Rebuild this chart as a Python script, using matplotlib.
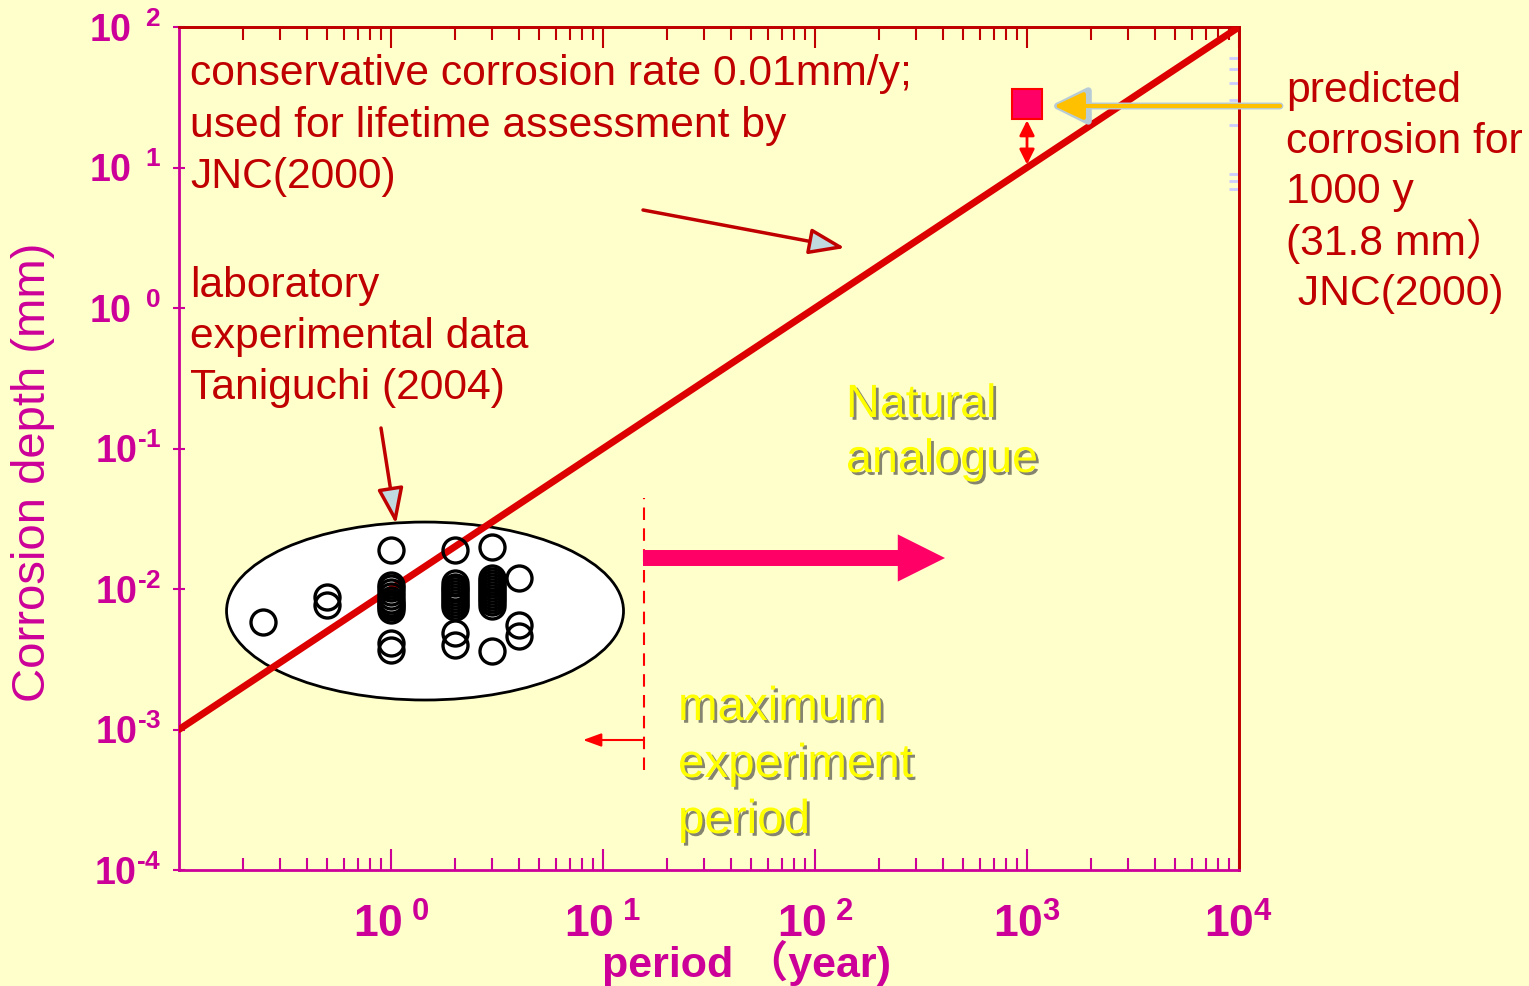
import matplotlib
matplotlib.use('Agg')
import matplotlib.pyplot as plt
from matplotlib.patches import Ellipse, FancyArrowPatch, ArrowStyle
from matplotlib.ticker import NullLocator, NullFormatter, FixedLocator, LogLocator
import matplotlib.patheffects as pe

# ---------------- data ----------------
line_period = [0.1, 1e4]          # conservative rate 0.01 mm/y
line_depth = [1e-3, 1e2]

lab_period = [0.25, 0.5, 0.5,
              1, 1, 1, 1, 1, 1, 1, 1, 1, 1, 1, 1,
              2, 2, 2, 2, 2, 2, 2, 2, 2, 2, 2, 2,
              3, 3, 3, 3, 3, 3, 3, 3, 3, 3, 3, 3,
              4, 4, 4]
lab_depth = [0.0058, 0.0088, 0.0077,
             0.0188, 0.0107, 0.0101, 0.0095, 0.0089, 0.0084, 0.0080, 0.0077, 0.0074,
             0.0071, 0.0041, 0.0037,
             0.0188, 0.0110, 0.0104, 0.0100, 0.0095, 0.0091, 0.0086, 0.0082, 0.0078,
             0.0075, 0.0049, 0.0040,
             0.0199, 0.0120, 0.0114, 0.0109, 0.0103, 0.0098, 0.0093, 0.0089, 0.0085,
             0.0081, 0.0076, 0.0036,
             0.0120, 0.0055, 0.0046]

predicted_period = [1000]
predicted_depth = [28.5]
line_depth_at_1000 = 10.5
max_experiment_period = 15.6

x_ticks = [1, 10, 100, 1000, 10000]
x_tick_labels = [r'$\mathbf{10}^{\ \mathbf{0}}$', r'$\mathbf{10}^{\ \mathbf{1}}$',
                 r'$\mathbf{10}^{\ \mathbf{2}}$', r'$\mathbf{10^3}$', r'$\mathbf{10^4}$']
y_ticks = [1e-4, 1e-3, 1e-2, 1e-1, 1e0, 1e1, 1e2]
y_tick_labels = ['$\\mathbf{10^{\u20104}}$', '$\\mathbf{10^{\u20103}}$',
                 '$\\mathbf{10^{\u20102}}$', '$\\mathbf{10^{\u20101}}$',
                 r'$\mathbf{10}^{\ \ \mathbf{0}}$', r'$\mathbf{10}^{\ \ \mathbf{1}}$',
                 r'$\mathbf{10}^{\ \ \mathbf{2}}$']
right_minor_ticks = [7, 8, 9, 20, 30, 40, 50, 60]

# ---------------- style ----------------
BG = '#FFFFCC'
MAG = '#CC0099'
DRED = '#C00000'
RED = '#DD0000'
PINK = '#FF0066'

plt.rcParams['font.family'] = ['Liberation Sans', 'Noto Sans CJK SC', 'DejaVu Sans']
plt.rcParams['mathtext.fontset'] = 'custom'
plt.rcParams['mathtext.rm'] = 'Liberation Sans'
plt.rcParams['mathtext.bf'] = 'Liberation Sans:bold'
plt.rcParams['mathtext.it'] = 'Liberation Sans:italic'

W, H = 1529, 986
fig = plt.figure(figsize=(W / 100, H / 100), dpi=100, facecolor=BG)


def P(px, py):
    return (px / W, 1 - py / H)


ax = fig.add_axes([179 / W, 1 - 870 / H, 1060 / W, 843 / H], facecolor=BG)
ax.set_xscale('log')
ax.set_yscale('log')
ax.set_xlim(0.1, 1e4)
ax.set_ylim(1e-4, 1e2)

for s in ['left', 'bottom']:
    ax.spines[s].set_color(MAG)
    ax.spines[s].set_linewidth(2)
for s in ['top', 'right']:
    ax.spines[s].set_color(DRED)
    ax.spines[s].set_linewidth(2)

ax.set_xticks(x_ticks)
ax.set_xticklabels(x_tick_labels)
ax.xaxis.set_minor_locator(LogLocator(base=10, subs=range(2, 10), numticks=20))
ax.xaxis.set_minor_formatter(NullFormatter())
ax.tick_params(axis='x', which='major', direction='in', length=15, width=1.5,
               color=MAG, labelcolor=MAG, labelsize=32, pad=24, top=False)
ax.tick_params(axis='x', which='minor', direction='in', length=9, width=1.5,
               color=MAG, top=False)
ax.set_yticks(y_ticks)
ax.set_yticklabels(y_tick_labels)
ax.yaxis.set_minor_locator(NullLocator())
ax.tick_params(axis='y', which='major', direction='inout', length=9, width=1.5,
               color=MAG, labelcolor=MAG, labelsize=27, pad=8, right=False)

# top axis (red ticks)
top = ax.secondary_xaxis('top')
top.set_xticks(x_ticks)
top.xaxis.set_major_formatter(NullFormatter())
top.xaxis.set_minor_locator(LogLocator(base=10, subs=range(2, 10), numticks=20))
top.xaxis.set_minor_formatter(NullFormatter())
top.tick_params(which='major', direction='in', length=15, width=1.5, color=DRED)
top.tick_params(which='minor', direction='in', length=9, width=1.5, color=DRED)
top.spines['top'].set_color(DRED)
top.spines['top'].set_linewidth(2)

# right axis (faint minor ticks)
right = ax.secondary_yaxis('right')
right.yaxis.set_major_locator(FixedLocator([]))
right.yaxis.set_minor_locator(FixedLocator(right_minor_ticks))
right.yaxis.set_minor_formatter(NullFormatter())
right.tick_params(which='minor', direction='in', length=7, width=2, color='#CCCCFF')
right.spines['right'].set_color(DRED)
right.spines['right'].set_linewidth(2)

fig.text(*P(33, 472), 'Corrosion depth (mm)', color=MAG, fontsize=34, rotation=90,
         ha='center', va='center')
fig.text(*P(746, 963), 'period （year)', color=MAG, fontsize=31, fontweight='bold',
         ha='center', va='center')

# ellipse behind lab data
ax.add_patch(Ellipse((0.2321, 0.3072), 0.3745, 0.2111, transform=ax.transAxes,
                     facecolor='white', edgecolor='black', lw=2, zorder=2))

# conservative corrosion line
ax.plot(line_period, line_depth, color=RED, lw=5, solid_capstyle='round', zorder=4)

# laboratory data
ax.plot(lab_period, lab_depth, ls='none', marker='o', ms=18, mfc='none',
        mec='black', mew=2.4, zorder=5)

# predicted
ax.plot(predicted_period, predicted_depth, ls='none', marker='s', ms=21,
        mfc=PINK, mec='#FF0000', mew=1.5, zorder=6)
ax.annotate('', xy=(predicted_period[0], line_depth_at_1000),
            xytext=(predicted_period[0], predicted_depth[0] * 0.76),
            arrowprops=dict(arrowstyle='<|-|>,head_length=0.9,head_width=0.45',
                            color='#FF0000', lw=2, shrinkA=0, shrinkB=0), zorder=6)

# maximum experiment period dashed line
ax.axvline(max_experiment_period, ymin=0.1186, ymax=0.441, color='#FF0000', lw=1.5,
           dashes=(6, 4), zorder=3)

# pink arrow
ax.add_patch(FancyArrowPatch(P(643, 558), P(945, 558), transform=fig.transFigure,
                             arrowstyle=ArrowStyle.Simple(head_length=34, head_width=34,
                                                          tail_width=11.5),
                             mutation_scale=1, color=PINK, lw=0, shrinkA=0, shrinkB=0,
                             zorder=5))
# small red arrow
ax.annotate('', xy=P(583, 740), xycoords='figure fraction',
            xytext=P(643, 740), textcoords='figure fraction',
            arrowprops=dict(arrowstyle='-|>,head_length=1.1,head_width=0.4',
                            color='#FF0000', lw=1.5, shrinkA=0, shrinkB=0))

# annotation arrows (dark red, light blue heads)
for start, end in [((643, 210), (845, 248)), ((381, 428), (396, 524))]:
    ax.add_patch(FancyArrowPatch(P(*start), P(*end), transform=fig.transFigure,
                                 arrowstyle='-|>,head_length=22,head_width=8',
                                 mutation_scale=1, lw=2.5, edgecolor=DRED,
                                 facecolor='#C0D8E0', shrinkA=0, shrinkB=0, zorder=7))

# yellow arrow
ax.add_patch(FancyArrowPatch(P(1280, 106), P(1050, 106), transform=fig.transFigure,
                             arrowstyle='-|>,head_length=22,head_width=11',
                             mutation_scale=1, lw=5, color='#B8CCD8',
                             shrinkA=0, shrinkB=0, zorder=7, clip_on=False))
ax.add_patch(FancyArrowPatch(P(1280, 106), P(1054, 106), transform=fig.transFigure,
                             arrowstyle='-|>,head_length=18,head_width=8.5',
                             mutation_scale=1, lw=3, color='#FFC000',
                             shrinkA=0, shrinkB=0, zorder=8, clip_on=False))

# texts
txt_kw = dict(color=DRED, fontsize=30.7, ha='left', va='baseline')
for y, s in zip([85, 137, 188], ['conservative corrosion rate 0.01mm/y;',
                                 'used for lifetime assessment by', 'JNC(2000)']):
    fig.text(*P(190, y), s, **txt_kw)
for y, s in zip([297, 348, 399], ['laboratory', 'experimental data', 'Taniguchi (2004)']):
    fig.text(*P(190, y), s, **txt_kw)
for y, s in zip([102, 153, 203, 255, 305], ['predicted', 'corrosion for', '1000 y',
                                            '(31.8 mm）', ' JNC(2000)']):
    fig.text(*P(1286, y), s, **txt_kw)

shadow = [pe.withSimplePatchShadow(offset=(2, -2), shadow_rgbFace='#333333', alpha=0.6)]
ykw = dict(color='#FFFF00', ha='left', va='baseline', path_effects=shadow)
for y, s in zip([417, 472], ['Natural', 'analogue']):
    fig.text(*P(846, y), s, fontsize=33.6, **ykw)
for y, s in zip([720, 777, 833], ['maximum', 'experiment', 'period']):
    fig.text(*P(678, y), s, fontsize=34.2, **ykw)

fig.savefig('out.png', dpi=100, facecolor=BG)
